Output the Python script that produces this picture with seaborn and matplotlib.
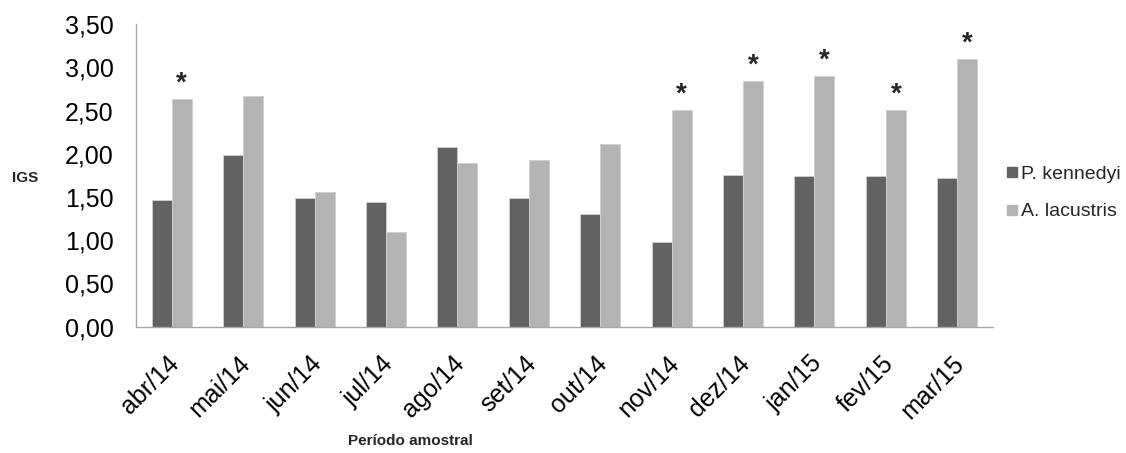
import matplotlib
matplotlib.use("Agg")
import matplotlib.pyplot as plt
import matplotlib.transforms as mtransforms
import seaborn as sns
import pandas as pd
from matplotlib.ticker import FuncFormatter, FixedLocator
from matplotlib.lines import Line2D

months = ["abr/14", "mai/14", "jun/14", "jul/14", "ago/14", "set/14",
          "out/14", "nov/14", "dez/14", "jan/15", "fev/15", "mar/15"]
kennedyi = [1.47, 1.99, 1.49, 1.44, 2.08, 1.49, 1.31, 0.98, 1.76, 1.74, 1.75, 1.72]
lacustris = [2.63, 2.67, 1.56, 1.10, 1.90, 1.93, 2.11, 2.51, 2.84, 2.90, 2.51, 3.10]
series_names = ["P. kennedyi", "A. lacustris"]
significant = ["abr/14", "nov/14", "dez/14", "jan/15", "fev/15", "mar/15"]

df = pd.DataFrame({
    "mes": months * 2,
    "IGS": kennedyi + lacustris,
    "especie": [series_names[0]] * len(months) + [series_names[1]] * len(months),
})

sns.set_style("white")
plt.rcParams["font.family"] = ["Liberation Sans", "DejaVu Sans"]

colors = {"P. kennedyi": "#626262", "A. lacustris": "#b3b3b3"}

fig = plt.figure(figsize=(11.26, 4.53), dpi=100)
ax = fig.add_axes([136 / 1126, 1 - 326.7 / 453, (993 - 136) / 1126, (326.7 - 24.3) / 453])

sns.barplot(data=df, x="mes", y="IGS", hue="especie", order=months,
            hue_order=series_names, palette=colors, width=0.56, gap=0,
            edgecolor="#d0d0d0", linewidth=0.6, ax=ax, legend=False)

ax.set_ylim(0, 3.5)
ax.set_xlim(-0.5, len(months) - 0.5)
ax.set_yticks([0, 0.5, 1.0, 1.5, 2.0, 2.5, 3.0, 3.5])
ax.yaxis.set_major_formatter(FuncFormatter(lambda v, p: f"{v:.2f}".replace(".", ",")))

ax.set_xticks(range(len(months)))
ax.set_xticklabels(months, rotation=45, ha="right", rotation_mode="anchor")
ax.xaxis.set_minor_locator(FixedLocator([i - 0.5 for i in range(len(months) + 1)]))
ax.tick_params(axis="x", which="major", length=0, labelsize=18, pad=14, colors="#000000")
ax.tick_params(axis="x", which="minor", length=6, width=1, color="#a6a6a6", direction="out")
ax.tick_params(axis="y", which="major", length=6, width=1, color="#a6a6a6",
               direction="out", labelsize=18, pad=10, labelcolor="#000000")

offset = mtransforms.ScaledTranslation(-5 / 100, -5 / 100, fig.dpi_scale_trans)
for lbl in ax.get_xticklabels():
    lbl.set_transform(lbl.get_transform() + offset)

for s in ["top", "right"]:
    ax.spines[s].set_visible(False)
for s in ["left", "bottom"]:
    ax.spines[s].set_color("#a6a6a6")
    ax.spines[s].set_linewidth(1)

ax.set_xlabel("")
ax.set_ylabel("")
fig.text(12 / 1126, 1 - 178 / 453, "IGS", fontsize=11, fontweight="bold", va="center", ha="left")
fig.text(410 / 1126, 1 - 441 / 453, "Período amostral", fontsize=11, fontweight="bold",
         va="center", ha="center")

# stars over significant months (A. lacustris bars)
for bar, m in zip(ax.containers[1], months):
    if m in significant:
        ax.text(bar.get_x() + bar.get_width() / 2, bar.get_height() + 0.03, "*",
                ha="center", va="bottom", fontsize=20, fontweight="bold")

handles = [Line2D([0], [0], marker="s", color="none", markerfacecolor=colors[n],
                  markeredgecolor=colors[n], markersize=7) for n in series_names]
fig.legend(handles, series_names, loc="center left",
           bbox_to_anchor=(998 / 1126, 1 - 193 / 453), frameon=False,
           fontsize=14, handlelength=0.6, handletextpad=0.2, labelspacing=1.0,
           borderaxespad=0)

fig.savefig("out.png", dpi=100)
